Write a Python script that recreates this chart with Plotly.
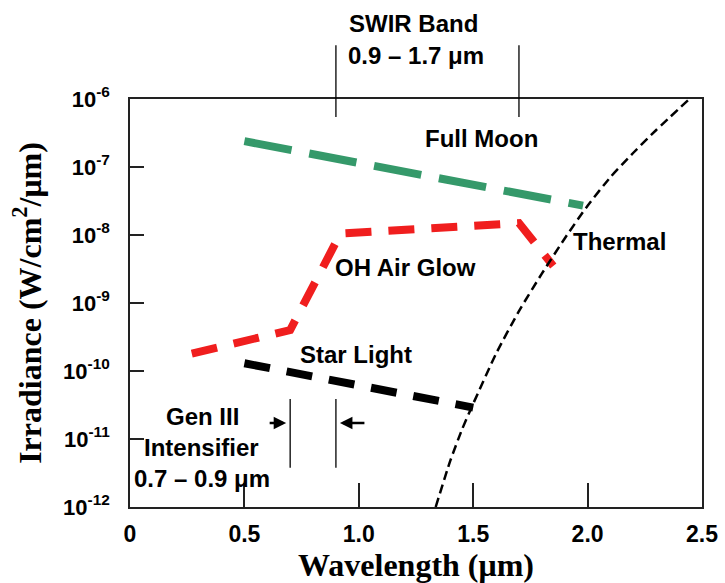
import plotly.graph_objects as go

# Night-sky irradiance sources, wavelength in µm, irradiance in W/cm²/µm
moon_wl = [0.5, 1.98]
moon_irr = [2.4e-7, 2.7e-8]

airglow_wl = [0.27, 0.70, 0.92, 1.70, 1.85]
airglow_irr = [1.8e-10, 4.0e-10, 1.05e-8, 1.5e-8, 3.5e-9]

star_wl = [0.5, 1.5]
star_irr = [1.3e-10, 2.9e-11]

thermal_wl = [1.336, 1.40, 1.45, 1.50, 1.60, 1.70, 1.80, 1.90, 2.00, 2.10, 2.20, 2.30, 2.445]
thermal_irr = [1.0e-12, 4.8e-12, 1.35e-11, 3.3e-11, 1.8e-10, 7.6e-10, 2.7e-9, 8.9e-9,
               2.7e-8, 7.1e-8, 1.62e-7, 3.5e-7, 1.0e-6]

# Detector bands (µm)
swir_band = [0.9, 1.7]
gen3_band = [0.7, 0.9]

# Axis ticks
x_tick_vals = [0, 0.5, 1.0, 1.5, 2.0, 2.5]
x_tick_text = ["0", "0.5", "1.0", "1.5", "2.0", "2.5"]
y_exponents = [-12, -11, -10, -9, -8, -7, -6]
y_tick_vals = [10.0 ** e for e in y_exponents]
y_tick_text = [f"10<sup>{e}</sup>" for e in y_exponents]

SANS = "Liberation Sans, Arial, sans-serif"
SERIF = "Liberation Serif, Times New Roman, serif"
GREEN = "#35996a"
RED = "#f01e1e"

fig = go.Figure()
fig.add_trace(go.Scatter(x=moon_wl, y=moon_irr, mode="lines",
                         line=dict(color=GREEN, width=8, dash="48px,18px")))
fig.add_trace(go.Scatter(x=airglow_wl, y=airglow_irr, mode="lines",
                         line=dict(color=RED, width=8, dash="26px,17px")))
fig.add_trace(go.Scatter(x=star_wl, y=star_irr, mode="lines",
                         line=dict(color="black", width=8, dash="26px,17px")))
fig.add_trace(go.Scatter(x=thermal_wl, y=thermal_irr, mode="lines",
                         line=dict(color="black", width=2.5, dash="9px,5px",
                                   shape="spline", smoothing=0.6)))

# Band marker lines
for wl in swir_band:
    fig.add_shape(type="line", xref="x", yref="paper", x0=wl, x1=wl, y0=0.956, y1=1.132,
                  line=dict(color="black", width=1.3))
for wl in gen3_band:
    fig.add_shape(type="line", xref="x", yref="paper", x0=wl, x1=wl, y0=0.096, y1=0.265,
                  line=dict(color="black", width=1.3))

# Arrows pointing at the Gen III band edges
arrow = dict(text="", showarrow=True, arrowhead=2, arrowsize=1, arrowwidth=2.5,
             arrowcolor="black", standoff=4, yref="paper", y=0.206, ay=0, xref="x")
fig.add_annotation(x=gen3_band[0], ax=-22, **arrow)
fig.add_annotation(x=gen3_band[1], ax=30, **arrow)

labels = [
    ("SWIR Band", 0.4956, 1.186),
    ("0.9 – 1.7 μm", 0.500, 1.1055),
    ("Full Moon", 0.6145, 0.902),
    ("Thermal", 0.8566, 0.650),
    ("OH Air Glow", 0.482, 0.586),
    ("Star Light", 0.3946, 0.373),
    ("Gen III", 0.1268, 0.2224),
    ("Intensifier", 0.1253, 0.1452),
    ("0.7 – 0.9 μm", 0.1253, 0.0693),
]
for txt, xp, yp in labels:
    fig.add_annotation(text=txt, xref="paper", yref="paper", x=xp, y=yp,
                       xanchor="center", yanchor="middle", showarrow=False,
                       font=dict(family=SANS, size=24, color="black", weight="bold"))

axis_common = dict(showline=True, mirror=True, linecolor="#222", linewidth=1.5,
                   ticks="inside", tickwidth=1.5, tickcolor="#222",
                   showgrid=False, zeroline=False, automargin=False)

fig.update_layout(
    width=725, height=583,
    margin=dict(l=130, r=23, t=99, b=76),
    paper_bgcolor="white", plot_bgcolor="white",
    showlegend=False,
    xaxis=dict(range=[0, 2.5], tickvals=x_tick_vals, ticktext=x_tick_text,
               ticklen=24, ticklabelstandoff=6,
               tickfont=dict(family=SANS, size=23, color="black", weight="bold"),
               title=dict(text="Wavelength (μm)", standoff=18,
                          font=dict(family=SERIF, size=32, color="black", weight="bold")),
               **axis_common),
    yaxis=dict(type="log", range=[-12, -6], tickvals=y_tick_vals, ticktext=y_tick_text,
               ticklen=14, ticklabelstandoff=14,
               tickfont=dict(family=SANS, size=22, color="black", weight="bold"),
               title=dict(text="Irradiance (W/cm<sup>2</sup>/μm)", standoff=12,
                          font=dict(family=SERIF, size=32, color="black", weight="bold")),
               **axis_common),
)

fig.write_html("out.html")
